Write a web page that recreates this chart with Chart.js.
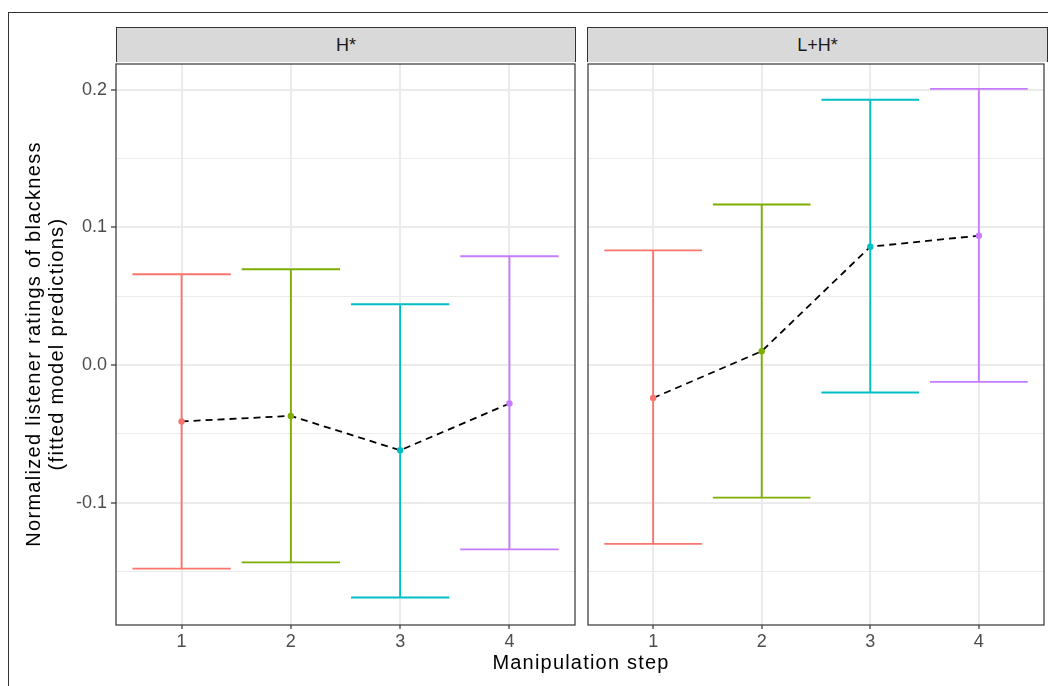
<!DOCTYPE html>
<html lang="en">
<head>
<meta charset="UTF-8">
<title>Normalized listener ratings of blackness</title>
<script src="https://cdn.jsdelivr.net/npm/chart.js"></script>
<style>
  body { margin: 0; background: #fff; font-family: "Liberation Sans", Arial, sans-serif; }
  #wrap { position: relative; width: 1048px; height: 686px; overflow: hidden; }
  .frame { position: absolute; left: 8px; top: 12px; width: 1060px; height: 700px; border: 1px solid #333; box-sizing: border-box; }
  .strip { position: absolute; top: 27px; height: 35px; background: #d9d9d9; border: 1px solid #333; border-bottom: none; box-sizing: border-box;
           text-align: center; line-height: 34px; font-size: 18px; color: #1a1a1a; }
  canvas { position: absolute; }
  .xtitle { position: absolute; left: 381px; width: 400px; top: 651px; text-align: center; font-size: 20px; letter-spacing: 1.2px; color: #000; }
  .ytitle { position: absolute; left: 45px; top: 344px; width: 460px; transform: translate(-50%, -50%) rotate(-90deg);
            text-align: center; font-size: 20px; letter-spacing: 1.3px; line-height: 23px; color: #000; }
</style>
</head>
<body>
<div id="wrap">
  <div class="frame"></div>
  <div class="strip" style="left:116px;width:460px;">H*</div>
  <div class="strip" style="left:587px;width:461px;">L+H*</div>
  <canvas id="panelH" width="580" height="626" style="left:0;top:60px;"></canvas>
  <canvas id="panelLH" width="468" height="626" style="left:580px;top:60px;"></canvas>
  <div class="ytitle">Normalized listener ratings of blackness<br>(fitted model predictions)</div>
  <div class="xtitle">Manipulation step</div>
</div>
<script>
// data
const steps = [1, 2, 3, 4];
const stepColors = ['#F8766D', '#7CAE00', '#00BFC4', '#C77CFF'];

const hMean  = [-0.041, -0.037, -0.062, -0.028];
const hLower = [-0.148, -0.1435, -0.169, -0.134];
const hUpper = [0.066, 0.0696, 0.0442, 0.079];

const lhMean  = [-0.024, 0.010, 0.086, 0.094];
const lhLower = [-0.130, -0.0964, -0.020, -0.0123];
const lhUpper = [0.0833, 0.1167, 0.1928, 0.2007];

const yTicks = [-0.15, -0.1, -0.05, 0, 0.05, 0.1, 0.15, 0.2];
const xTicks = [1, 2, 3, 4];

const capHalf = 0.45;
const isMajor = v => Math.abs(Math.round(v * 20)) % 2 === 0;

const panelBorder = {
  id: 'panelBorder',
  afterDraw(chart) {
    const { ctx, chartArea: a } = chart;
    ctx.save();
    ctx.strokeStyle = '#333';
    ctx.lineWidth = 1.2;
    ctx.strokeRect(a.left, a.top, a.right - a.left, a.bottom - a.top);
    ctx.restore();
  }
};

function makeDatasets(mean, lower, upper) {
  const ds = [{
    data: steps.map((s, i) => ({ x: s, y: mean[i] })),
    borderColor: '#000',
    borderWidth: 1.8,
    borderDash: [7, 5],
    pointRadius: 3.2,
    pointBackgroundColor: stepColors,
    pointBorderWidth: 0,
    tension: 0
  }];
  steps.forEach((s, i) => {
    ds.push({
      data: [
        { x: s - capHalf, y: upper[i] }, { x: s + capHalf, y: upper[i] }, { x: s, y: null },
        { x: s, y: upper[i] }, { x: s, y: lower[i] }, { x: s, y: null },
        { x: s - capHalf, y: lower[i] }, { x: s + capHalf, y: lower[i] }
      ],
      borderColor: stepColors[i],
      borderWidth: 1.9,
      pointRadius: 0,
      spanGaps: false
    });
  });
  return ds;
}

function noPad(s) {
  s.paddingTop = 0; s.paddingBottom = 0; s.paddingLeft = 0; s.paddingRight = 0;
}

function makeChart(id, mean, lower, upper, showY) {
  new Chart(document.getElementById(id), {
    type: 'line',
    data: { datasets: makeDatasets(mean, lower, upper) },
    options: {
      responsive: false,
      animation: false,
      events: [],
      layout: { padding: { top: 2, right: showY ? 5 : 1, left: showY ? 0 : 8, bottom: 0 } },
      plugins: { legend: { display: false }, tooltip: { enabled: false } },
      scales: {
        x: {
          type: 'linear', min: 0.4, max: 4.6,
          afterBuildTicks: s => { s.ticks = xTicks.map(v => ({ value: v })); },
          afterFit: s => { s.height = 61; noPad(s); },
          border: { display: false },
          grid: { color: '#ebebeb', lineWidth: 2, tickLength: 4, tickColor: '#333', tickWidth: 1.2 },
          ticks: { color: '#4d4d4d', font: { family: '"Liberation Sans", Arial, sans-serif', size: 18 }, padding: 2, maxRotation: 0 }
        },
        y: {
          type: 'linear', min: -0.189, max: 0.2188,
          display: true,
          afterBuildTicks: s => { s.ticks = yTicks.map(v => ({ value: v })); },
          afterFit: s => { s.width = showY ? 116 : 0; noPad(s); },
          border: { display: false },
          grid: {
            color: '#ebebeb',
            lineWidth: c => isMajor(c.tick.value) ? 2 : 1.1,
            drawTicks: showY,
            tickLength: 5,
            tickWidth: 1.2,
            tickColor: c => (c.tick && isMajor(c.tick.value)) ? '#333' : 'rgba(0,0,0,0)'
          },
          ticks: {
            display: showY,
            color: '#4d4d4d',
            font: { family: '"Liberation Sans", Arial, sans-serif', size: 18 },
            padding: 4,
            callback: v => isMajor(v) ? v.toFixed(1) : ''
          }
        }
      }
    },
    plugins: [panelBorder]
  });
}

makeChart('panelH', hMean, hLower, hUpper, true);
makeChart('panelLH', lhMean, lhLower, lhUpper, false);
</script>
</body>
</html>
